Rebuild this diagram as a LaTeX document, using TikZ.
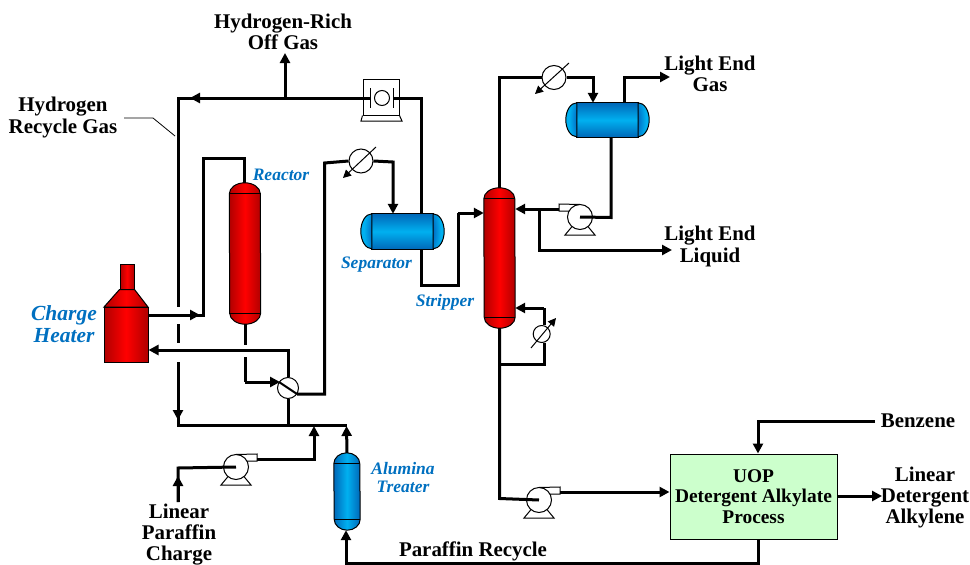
\documentclass[tikz,border=0pt]{standalone}
\usepackage{fontspec}
\setmainfont{Liberation Serif}
\usetikzlibrary{arrows.meta, positioning}

\definecolor{reddark}{HTML}{B00000}
\definecolor{redlite}{HTML}{FF0000}
\definecolor{bluedark}{HTML}{0068B8}
\definecolor{bluelite}{HTML}{00B0F0}
\definecolor{labelblue}{HTML}{0070C0}
\definecolor{boxgreen}{HTML}{CCFFCC}

\pgfdeclareradialshading{capleft}{\pgfpoint{50bp}{0bp}}{rgb(0bp)=(0,0.36,0.68); rgb(18bp)=(0,0.45,0.78); rgb(40bp)=(0,0.69,0.94); rgb(100bp)=(0,0.69,0.94)}
\pgfdeclareradialshading{capright}{\pgfpoint{-50bp}{0bp}}{rgb(0bp)=(0,0.36,0.68); rgb(18bp)=(0,0.45,0.78); rgb(40bp)=(0,0.69,0.94); rgb(100bp)=(0,0.69,0.94)}

\begin{document}
\begin{tikzpicture}[
  x=1pt, y=-1pt,
  pipe/.style={line width=3pt},
  tipped/.style={pipe, -{Triangle[length=10pt,width=10pt]}},
  equip/.style={circle, draw, line width=1pt, fill=white, inner sep=0pt},
  gauge/.style={line width=1pt, -{Triangle[length=8pt,width=8pt]}},
  tank/.style={rectangle, inner sep=0pt},
  redshade/.style={left color=reddark, right color=reddark, middle color=redlite},
  streamlabel/.style={font=\fontsize{20.9}{21.4}\selectfont\bfseries, align=center, inner sep=0pt},
  unitlabel/.style={font=\fontsize{17.5}{18}\selectfont\bfseries\itshape, text=labelblue, align=center, inner sep=0pt}
]
  \useasboundingbox (0,0) rectangle (970,565);

  %------------------------------------------------------------
  %  VESSELS
  %------------------------------------------------------------
  \node[tank, minimum width=31pt, minimum height=141pt] (reactor)  at (245,253.5) {};
  \node[tank, minimum width=31pt, minimum height=140pt] (stripper) at (499.5,258) {};
  \node[tank, minimum width=26pt, minimum height=77pt]  (treater)  at (347,491.5) {};
  \node[tank, minimum width=83pt, minimum height=35pt]  (separator)   at (402.5,231.5) {};
  \node[tank, minimum width=83pt, minimum height=34pt]  (accumulator) at (607.5,120) {};

  \foreach \name/\vw/\vdark/\vlite in {reactor/31/reddark/redlite, stripper/31/reddark/redlite, treater/26/bluedark/bluelite} {
    \draw[line width=1pt, left color=\vdark, right color=\vdark, middle color=\vlite]
      ([yshift=-11pt]\name.north west) arc[start angle=180, end angle=0, x radius=0.5*\vw pt, y radius=11pt]
      -- ([yshift=11pt]\name.south east) arc[start angle=0, end angle=-180, x radius=0.5*\vw pt, y radius=11pt]
      -- cycle;
    \draw[line width=1pt] ([yshift=-11pt]\name.north west) -- ([yshift=-11pt]\name.north east);
    \draw[line width=1pt] ([yshift=11pt]\name.south west) -- ([yshift=11pt]\name.south east);
  }

  \foreach \name/\vh in {separator/17.5, accumulator/17} {
    \draw[line width=1pt, top color=bluedark, bottom color=bluedark, middle color=bluelite]
      ([xshift=11pt]\name.north west) -- ([xshift=-11pt]\name.north east)
      -- ([xshift=-11pt]\name.south east) -- ([xshift=11pt]\name.south west) -- cycle;
    \draw[line width=1pt, shading=capleft]
      ([xshift=11pt]\name.north west) arc[start angle=90, end angle=270, x radius=11pt, y radius=\vh pt] -- cycle;
    \draw[line width=1pt, shading=capright]
      ([xshift=-11pt]\name.north east) arc[start angle=90, end angle=-90, x radius=11pt, y radius=\vh pt] -- cycle;
  }

  %------------------------------------------------------------
  %  CHARGE HEATER
  %------------------------------------------------------------
  \node[rectangle, draw, line width=1pt, minimum width=14pt, minimum height=25pt, inner sep=0pt, redshade] (stack) at (127,276.5) {};
  \draw[line width=1pt, redshade]
    (stack.south west) -- (stack.south east) -- (148,307) -- (104,307) -- cycle;
  \node[rectangle, draw, line width=1pt, minimum width=44pt, minimum height=55pt, inner sep=0pt, redshade] (heater) at (126,334.5) {};

  %------------------------------------------------------------
  %  PUMPS
  %------------------------------------------------------------
  \foreach \name/\px/\py/\dir in {pumpA/236/467/1, pumpB/580/217/-1, pumpC/539/500/1} {
    \node[equip, minimum size=25pt] (\name) at (\px,\py) {};
    \begin{scope}[shift={(\name.center)}, xscale=\dir, line width=1pt]
      \draw (0,-12.5) -- (21,-13) -- (21,-6) -- (11,-6);
      \draw (-8,9.6) -- (-15,18) -- (15,18) -- (8,9.6);
    \end{scope}
  }
  \coordinate (pumpAout) at (257,459);
  \coordinate (pumpBout) at (559,209);
  \coordinate (pumpCout) at (560,492);

  %------------------------------------------------------------
  %  COMPRESSOR
  %------------------------------------------------------------
  \node[rectangle, draw, line width=1pt, minimum width=36pt, minimum height=36pt, inner sep=0pt] (compressor) at (381,97) {};
  \draw[line width=1pt] (compressor.south west) -- (361,121) -- (402,121) -- (compressor.south east);
  \node[equip, minimum size=15pt] (compwheel) at (382,98) {};
  \coordinate (compin)  at (370,98);
  \coordinate (compout) at (393.5,98);
  \draw[line width=1pt] (370,88) -- (370,108);
  \draw[line width=1pt] (393.5,88) -- (393.5,108);

  %------------------------------------------------------------
  %  EXCHANGERS
  %------------------------------------------------------------
  \node[equip, minimum size=21pt] (exchanger) at (288,388) {};
  \node[equip, minimum size=24pt] (coolerA)   at (361,161) {};
  \node[equip, minimum size=24pt] (coolerB)   at (554,77.5) {};
  \draw[gauge] (376,147) -- (343,178);
  \draw[gauge] (569,63) -- (535,94);

  %------------------------------------------------------------
  %  UOP PROCESS BOX
  %------------------------------------------------------------
  \node[rectangle, draw, line width=1pt, fill=boxgreen, minimum width=167pt, minimum height=85pt, inner sep=0pt,
        font=\fontsize{19.4}{20.5}\selectfont\bfseries, align=center] (uop) at (753.5,496.5) {UOP\\Detergent Alkylate\\Process};

  %------------------------------------------------------------
  %  HYDROGEN RECYCLE LOOP
  %------------------------------------------------------------
  \coordinate (sepriser)  at (421,214);
  \coordinate (recycle)   at (178,98);
  \coordinate (offgasrt)  at (285,98);
  \coordinate (offgastip) at (285,53);
  \coordinate (mixleft)   at (178,425);
  \coordinate (mixright)  at (346.5,425);

  \draw[pipe] (sepriser) |- (compout);
  \draw[pipe] (compin) -- (recycle) -- (178,307);
  \draw[tipped] (223,98) -- (190,98);
  \draw[tipped] (offgasrt) -- (offgastip);
  \draw[pipe] (178,324) -- (178,343);
  \draw[pipe] (178,362) -- (mixleft) -- (mixright);
  \draw[tipped] (178,362) -- (178,420);

  %------------------------------------------------------------
  %  REACTOR SECTION
  %------------------------------------------------------------
  \coordinate (heatout)  at (148,315);
  \coordinate (feedup)   at (203.5,315);
  \coordinate (feedtop)  at (244.5,158.5);
  \coordinate (retcorner) at (288,350);
  \coordinate (botdown)  at (245,382);

  \draw[pipe] (heatout) -- (feedup) |- (feedtop) -- (feedtop |- reactor.north);
  \draw[tipped] (heatout) -- (200,315);
  \draw[pipe] (reactor.south) -- (245,345);
  \draw[pipe] (245,357) -- (botdown);
  \draw[tipped] (botdown) -- (280,382);
  \draw[line width=2pt] (279,382) -- (297,394);
  \draw[tipped] (exchanger.north) -- (retcorner) -- (retcorner -| heater.east);
  \draw[pipe] (exchanger.south) -- (exchanger.south |- mixleft);

  %------------------------------------------------------------
  %  FEEDS TO THE MIX LINE
  %------------------------------------------------------------
  \coordinate (chargein) at (178,502);
  \coordinate (chargeup) at (178,468);
  \draw[pipe] (chargein) -- (chargeup) -- (pumpA.center);
  \draw[tipped] (chargein) -- (178,476);
  \draw[tipped] (pumpAout) -| (314,426);
  \draw[tipped] (treater.north) -- (346.5,426);

  %------------------------------------------------------------
  %  SEPARATOR AND STRIPPER
  %------------------------------------------------------------
  \coordinate (effright) at (324.5,394);
  \coordinate (effleft)  at (324.5,163);
  \coordinate (sepin)    at (393,162);
  \coordinate (sepout)   at (421,285);
  \coordinate (stripin)  at (458,213);

  \draw[pipe] (297,394) -- (effright) -- (effleft) -- (coolerA.west);
  \draw[tipped] (coolerA.east) -- (sepin) -- (sepin |- separator.north);
  \draw[pipe] (421,249) -- (sepout) -| (stripin);
  \draw[tipped] (stripin) -- (stripin -| stripper.west);

  %------------------------------------------------------------
  %  STRIPPER OVERHEAD
  %------------------------------------------------------------
  \coordinate (ovhtop)   at (499.5,77.5);
  \coordinate (drumin)   at (593,77.5);
  \coordinate (gasup)    at (624.5,77);
  \coordinate (gastip)   at (670,77);
  \coordinate (drumdown) at (611,217.5);
  \coordinate (liqdown)  at (539,209);
  \coordinate (liqright) at (539,250);
  \coordinate (liqtip)   at (672,250);

  \draw[pipe] (stripper.north) -- (ovhtop) -- (coolerB.west);
  \draw[tipped] (coolerB.east) -- (drumin) -- (drumin |- accumulator.north);
  \draw[tipped] (gasup |- accumulator.north) -- (gasup) -- (gastip);
  \draw[pipe] (drumdown |- accumulator.south) -- (drumdown) -- (pumpB.center);
  \draw[tipped] (pumpBout) -- (pumpBout -| stripper.east);
  \draw[tipped] (liqdown) -- (liqright) -- (liqtip);

  %------------------------------------------------------------
  %  REBOILER
  %------------------------------------------------------------
  \coordinate (rebtop) at (544,308);
  \coordinate (reblow) at (544,364.5);
  \node[equip, minimum size=17pt] (reboiler) at (541.7,334) {};
  \draw[gauge] (531,348) -- (556,318);
  \draw[tipped] (rebtop) -- (rebtop -| stripper.east);
  \draw[pipe] (rebtop) -- (rebtop |- reboiler.north);
  \draw[pipe] (reblow |- reboiler.south) -- (reblow) -- (reblow -| stripper.center);

  %------------------------------------------------------------
  %  STRIPPER BOTTOMS, UOP STREAMS
  %------------------------------------------------------------
  \coordinate (botleft)   at (499.5,498.5);
  \coordinate (benzfrom)  at (875,421);
  \coordinate (benzdown)  at (758,421);
  \coordinate (prodtip)   at (882,496);
  \coordinate (recbot)    at (758,563);
  \coordinate (recleft)   at (346,563);

  \draw[pipe] (stripper.south) -- (botleft) -- (pumpC.center);
  \draw[tipped] (pumpCout) -- (pumpCout -| uop.west);
  \draw[tipped] (benzfrom) -- (benzdown) -- (benzdown |- uop.north);
  \draw[tipped] (uop.east |- prodtip) -- (prodtip);
  \draw[tipped] (recbot |- uop.south) -- (recbot) -- (recleft) -- (recleft |- treater.south);

  %------------------------------------------------------------
  %  LABELS
  %------------------------------------------------------------
  \node[streamlabel] (offgaslabel)  at (283,32)   {Hydrogen-Rich\\Off Gas};
  \node[streamlabel] (recyclelabel) at (63,117.5) {Hydrogen\\Recycle Gas};
  \node[streamlabel] (chargelabel)  at (179,534.5) {Linear\\Paraffin\\Charge};
  \node[streamlabel] (paraffinlabel) at (473,551) {Paraffin Recycle};
  \node[streamlabel] (gaslabel)     at (710,74)   {Light End\\Gas};
  \node[streamlabel] (liquidlabel)  at (710,246.5) {Light End\\Liquid};
  \node[streamlabel] (benzenelabel) at (918,421)  {Benzene};
  \node[streamlabel] (alkylenelabel) at (925,497.5) {Linear\\Detergent\\Alkylene};

  \node[unitlabel] (reactorlabel)   at (281,175)   {Reactor};
  \node[unitlabel] (separatorlabel) at (376.5,265) {Separator};
  \node[unitlabel] (stripperlabel)  at (445,302)   {Stripper};
  \node[unitlabel] (treaterlabel)   at (403,478)   {Alumina\\Treater};
  \node[unitlabel, font=\fontsize{21.5}{21.5}\selectfont\bfseries\itshape] (heaterlabel) at (64,324) {Charge\\Heater};

  \coordinate (leaderstart) at (124,118);
  \coordinate (leaderknee)  at (153,118);
  \coordinate (leaderend)   at (175,136);
  \draw[line width=0.8pt] (leaderstart) -- (leaderknee) -- (leaderend);

\end{tikzpicture}
\end{document}
